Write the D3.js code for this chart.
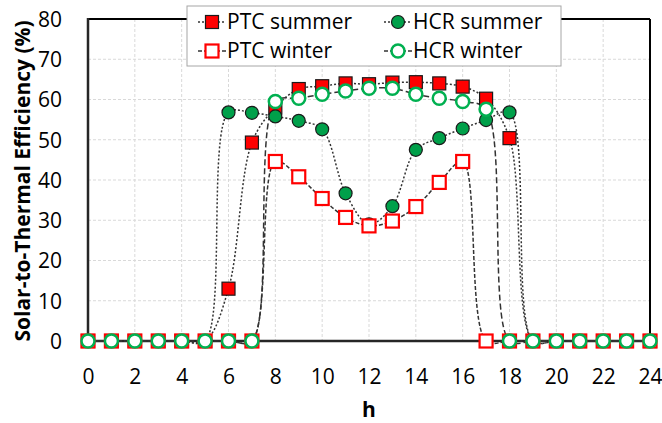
<!DOCTYPE html>
<html><head><meta charset="utf-8">
<script src="https://cdn.jsdelivr.net/npm/d3@7"></script>
<style>body{margin:0;background:#fff}svg{display:block}</style>
</head><body>
<svg id="c" width="662" height="423"></svg>
<script>
const hours = d3.range(0,25);
const ptcSummer = [0,0,0,0,0,0,13,49.3,58,62.6,63.3,64,63.8,64.2,64.3,64,63.2,60.2,50.4,0,0,0,0,0,0];
const hcrSummer = [0,0,0,0,0,0,56.8,56.7,55.8,54.7,52.6,36.7,29,33.5,47.5,50.4,52.8,54.9,56.8,0,0,0,0,0,0];
const ptcWinter = [0,0,0,0,0,0,0,0,44.6,40.8,35.4,30.7,28.6,29.8,33.4,39.4,44.6,0,0,0,0,0,0,0,0];
const hcrWinter = [0,0,0,0,0,0,0,0,59.5,60.3,61.3,62.1,62.8,62.8,61.3,60.3,59.5,57.6,0,0,0,0,0,0,0];
const xTicks = d3.range(0,25,2);
const yTicks = d3.range(0,81,10);
const seriesNames = ["PTC summer","HCR summer","PTC winter","HCR winter"];

const FONT = "'Open Sans', sans-serif";
const svg = d3.select("#c");
const L=88, R=650, T=19, B=341;
const x = d3.scaleLinear().domain([0,24]).range([L,R]);
const y = d3.scaleLinear().domain([0,80]).range([B,T]);

// gridlines
const g = svg.append("g");
g.selectAll(".gy").data(yTicks.slice(1)).join("line")
  .attr("x1",L).attr("x2",R).attr("y1",d=>y(d)).attr("y2",d=>y(d))
  .attr("stroke","#d9d9d9").attr("stroke-width",1).attr("stroke-dasharray","3,2");
g.selectAll(".gx").data(xTicks.slice(1)).join("line")
  .attr("y1",T).attr("y2",B).attr("x1",d=>x(d)).attr("x2",d=>x(d))
  .attr("stroke","#d9d9d9").attr("stroke-width",1).attr("stroke-dasharray","3,2");

// box top/right
svg.append("line").attr("x1",L).attr("x2",R).attr("y1",T).attr("y2",T).attr("stroke","#000").attr("stroke-width",2);
svg.append("line").attr("x1",R).attr("x2",R).attr("y1",T).attr("y2",B).attr("stroke","#000").attr("stroke-width",2);

// axes
const yAxis = d3.axisLeft(y).tickValues(yTicks).tickSize(0).tickPadding(0);
const ya = svg.append("g").attr("transform",`translate(${L},0)`).call(yAxis);
ya.select(".domain").remove();
ya.selectAll("text").attr("x",-26).attr("dy","0.35em").style("font-family",FONT).style("font-size","21px").attr("fill","#000");
const xAxis = d3.axisBottom(x).tickValues(xTicks).tickSize(0).tickPadding(0);
const xa = svg.append("g").attr("transform",`translate(0,${B})`).call(xAxis);
xa.select(".domain").remove();
xa.selectAll("text").attr("y",36).attr("dy","0.35em").style("font-family",FONT).style("font-size","21px").attr("fill","#000");

svg.append("line").attr("x1",L).attr("x2",L).attr("y1",T-1).attr("y2",B+1).attr("stroke","#262626").attr("stroke-width",2.5);
svg.append("line").attr("x1",L).attr("x2",R).attr("y1",B).attr("y2",B).attr("stroke","#262626").attr("stroke-width",2.5);

// titles
svg.append("text").attr("transform",`translate(23,${(T+B)/2+1}) rotate(-90)`).attr("text-anchor","middle").attr("dy","0.35em")
  .style("font-family",FONT).style("font-size","21px").style("font-weight","bold").text("Solar-to-Thermal Efficiency (%)");
svg.append("text").attr("x",(L+R)/2).attr("y",410).attr("text-anchor","middle").attr("dy","0.35em")
  .style("font-family",FONT).style("font-size","21px").style("font-weight","bold").text("h");

const line = d3.line().x((d,i)=>x(hours[i])).y(d=>y(d)).curve(d3.curveCatmullRom.alpha(0.5));
const styles = [
  {data:ptcSummer, dash:"2,2", shape:"sq", fill:"#ff0000", stroke:"#1a1a1a", sw:1.2},
  {data:hcrSummer, dash:"2,2", shape:"ci", fill:"#00a04a", stroke:"#1a1a1a", sw:1.2},
  {data:ptcWinter, dash:"4,2", shape:"sq", fill:"#fff", stroke:"#ff0000", sw:2.2},
  {data:hcrWinter, dash:"6,3", shape:"ci", fill:"#fff", stroke:"#00b050", sw:2.5},
];
styles.forEach(s=>{
  svg.append("path").attr("d",line(s.data)).attr("fill","none").attr("stroke","#333").attr("stroke-width",1.5).attr("stroke-dasharray",s.dash);
});
function marker(sel,s){
  if(s.shape==="sq") sel.append("rect").attr("x",-6.5).attr("y",-6.5).attr("width",13).attr("height",13)
     .attr("fill",s.fill).attr("stroke",s.stroke).attr("stroke-width",s.sw);
  else sel.append("circle").attr("r",6.5).attr("fill",s.fill).attr("stroke",s.stroke).attr("stroke-width",s.sw);
}
styles.forEach(s=>{
  svg.append("g").selectAll("g").data(s.data).join("g")
    .attr("transform",(d,i)=>`translate(${x(hours[i])},${y(d)})`)
    .each(function(){marker(d3.select(this),s);});
});

// legend
const lg = svg.append("g");
lg.append("rect").attr("x",187).attr("y",6).attr("width",374).attr("height",60).attr("fill","#fff").attr("stroke","#a6a6a6").attr("stroke-width",1);
const pos = [[212,22],[398,22],[212,51],[398,51]];
styles.forEach((s,i)=>{
  const [px,py]=pos[i];
  lg.append("line").attr("x1",px-14).attr("x2",px+14).attr("y1",py).attr("y2",py).attr("stroke","#333").attr("stroke-width",1.5).attr("stroke-dasharray",i<2?"2,2":"4,2");
  const m = lg.append("g").attr("transform",`translate(${px},${py})`);
  marker(m,s);
  lg.append("text").attr("x",px+15).attr("y",py).attr("dy","0.35em").style("font-family",FONT).style("font-size","21px").attr("fill","#000").text(seriesNames[i]);
});
</script>
</body></html>
